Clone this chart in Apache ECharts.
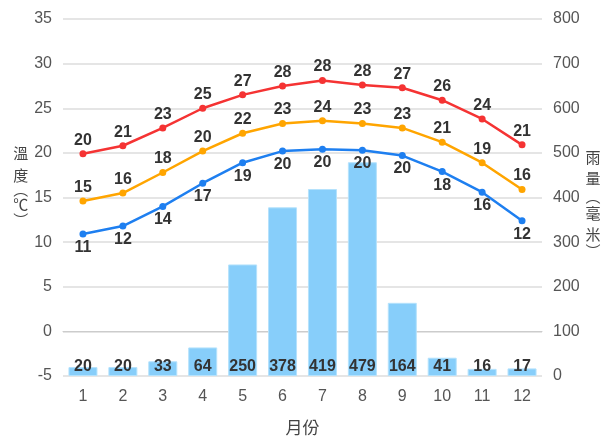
<!DOCTYPE html>
<html>
<head>
<meta charset="utf-8">
<script src="https://cdn.jsdelivr.net/npm/echarts@6/dist/echarts.min.js"></script>
<style>html,body{margin:0;padding:0;background:#fff}#c{width:605px;height:441px}</style>
</head>
<body>
<div id="c"></div>
<script>
var months = ['1','2','3','4','5','6','7','8','9','10','11','12'];
var rainfall = [20, 20, 33, 64, 250, 378, 419, 479, 164, 41, 16, 17];
var maxTemp = [19.9, 20.8, 22.8, 25.0, 26.5, 27.5, 28.1, 27.6, 27.3, 25.9, 23.8, 20.9];
var meanTemp = [14.6, 15.5, 17.8, 20.2, 22.2, 23.3, 23.6, 23.3, 22.8, 21.2, 18.9, 15.9];
var minTemp = [10.9, 11.8, 14.0, 16.6, 18.9, 20.2, 20.4, 20.3, 19.7, 17.9, 15.6, 12.4];

var chart = echarts.init(document.getElementById('c'));
var font = 'Liberation Sans, Arial, Helvetica, sans-serif';
var cjk = 'Noto Sans CJK TC, Noto Sans CJK SC, sans-serif';
var labelStyle = {show: true, fontSize: 16, fontWeight: 'bold', color: '#333', fontFamily: font,
  formatter: function (p) { return Math.round(p.value); }};
function lineSeries(name, data, color, pos) {
  return {
    name: name, type: 'line', yAxisIndex: 0, data: data,
    symbol: 'circle', symbolSize: 7,
    lineStyle: {width: 2.5, color: color},
    itemStyle: {color: color},
    label: Object.assign({}, labelStyle, {position: pos, distance: 2}),
    z: 3
  };
}
function nameRich(lh) {
  return {
    c: {fontSize: 15, lineHeight: lh, color: '#444', fontFamily: cjk},
    o: {fontSize: 15, lineHeight: 7, color: '#444', fontFamily: cjk},
    o2: {fontSize: 15, lineHeight: 13, color: '#444', fontFamily: cjk},
    e: {fontSize: 15, lineHeight: 11, color: '#444', fontFamily: cjk}
  };
}
chart.setOption({
  animation: false,
  textStyle: {fontFamily: font},
  grid: {left: 63, right: 63, top: 19, bottom: 63},
  xAxis: {
    type: 'category', data: months,
    name: '月份', nameLocation: 'middle', nameGap: 43,
    nameTextStyle: {fontSize: 17, color: '#444', fontFamily: cjk},
    axisLine: {lineStyle: {color: '#ccc'}},
    axisTick: {show: false},
    axisLabel: {fontSize: 16, color: '#555', margin: 13, fontFamily: font}
  },
  yAxis: [{
    type: 'value', min: -5, max: 35, interval: 5,
    name: '{c|溫}\n{c|度}\n{o|︵}\n{c|℃}\n{e|︶}', nameLocation: 'middle', nameGap: 42, nameRotate: 0,
    nameTextStyle: {align: 'center', verticalAlign: 'middle', padding: [0, 0, 27, 0], rich: nameRich(22)},
    axisLine: {show: false}, axisTick: {show: false},
    axisLabel: {fontSize: 16, color: '#555', margin: 11, fontFamily: font},
    splitLine: {lineStyle: {color: '#ddd', width: 1.5}}
  }, {
    type: 'value', min: 0, max: 800, interval: 100,
    name: '{c|雨}\n{c|量}\n{o2|︵}\n{c|毫}\n{c|米}\n{e|︶}', nameLocation: 'middle', nameGap: 50, nameRotate: 0,
    nameTextStyle: {align: 'center', verticalAlign: 'middle', padding: [8, 0, 0, 0], rich: nameRich(21.5)},
    axisLine: {show: false}, axisTick: {show: false},
    axisLabel: {fontSize: 16, color: '#555', margin: 11, fontFamily: font},
    splitLine: {show: false}
  }],
  series: [{
    name: '雨量', type: 'bar', yAxisIndex: 1, data: rainfall, barWidth: 29,
    itemStyle: {color: '#87CEFA', borderColor: '#B5E2FC', borderWidth: 1},
    label: Object.assign({}, labelStyle, {position: 'insideBottom', distance: 1, formatter: '{c}'}),
    z: 1
  },
  lineSeries('最高', maxTemp, '#F53333', 'top'),
  lineSeries('平均', meanTemp, '#FFA500', 'top'),
  lineSeries('最低', minTemp, '#1E7FF0', 'bottom')
  ]
});
</script>
</body>
</html>
